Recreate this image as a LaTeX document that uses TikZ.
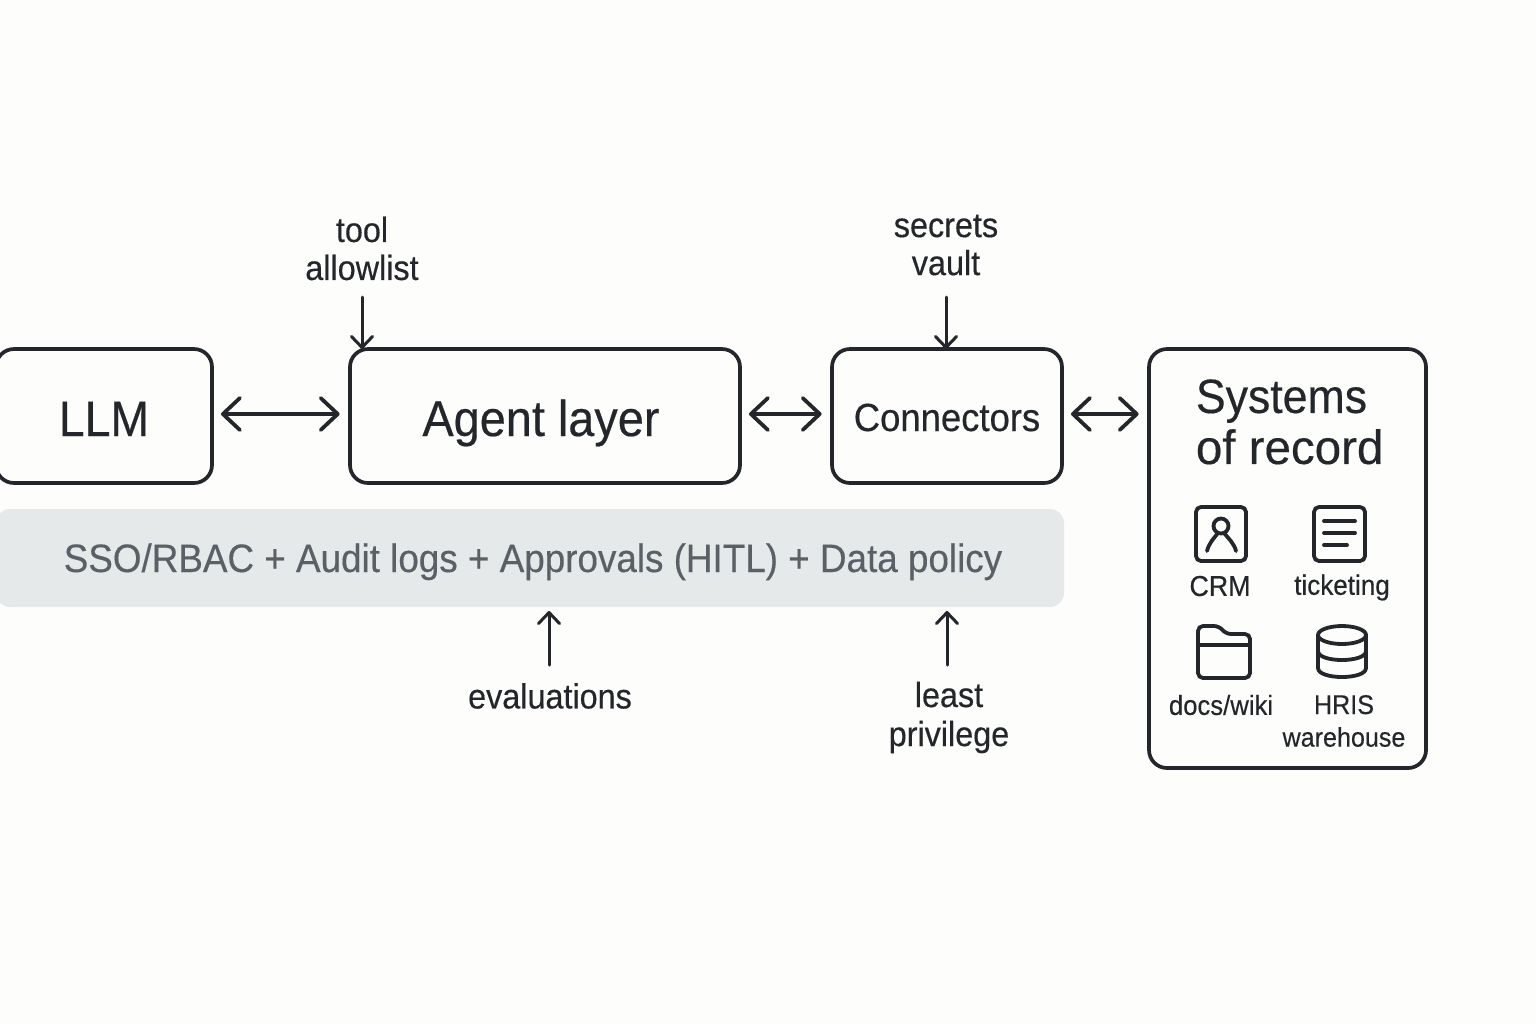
\documentclass[tikz,border=0pt]{standalone}
\usepackage{fontspec}
\setmainfont[FakeStretch=0.93,FakeBold=0.35]{Liberation Sans}
\usetikzlibrary{arrows.meta}
\definecolor{ink}{HTML}{23272B}
\definecolor{bandfill}{HTML}{E6E9EA}
\definecolor{bandtext}{HTML}{5A6066}
\definecolor{paper}{HTML}{FDFDFB}
\tikzset{
  x=0.5pt,y=-0.5pt,
  blockbox/.style={draw=ink,line width=1.85pt,rounded corners=9pt,fill=paper,inner sep=0pt,outer sep=0pt,text=ink,anchor=north west},
  lbl/.style={text=ink,inner sep=0pt,align=center},
  dbl/.style={draw=ink,line width=1.9pt,line cap=round,shorten >=5.2pt,shorten <=4.5pt,{Straight Barb[round,length=8.5pt,width=16pt,line width=1.9pt]}-{Straight Barb[round,length=8.5pt,width=16pt,line width=1.9pt]}},
  sgl/.style={draw=ink,line width=1.5pt,line cap=round,-{Straight Barb[round,length=5.5pt,width=10.5pt,line width=1.5pt]}},
  icon/.style={draw=ink,line width=1.9pt,line cap=round,line join=round},
}
\begin{document}
\begin{tikzpicture}
\useasboundingbox (0,0) rectangle (1536,1024);
\fill[paper] (0,0) rectangle (1536,1024);
\begin{scope}
\clip (0,0) rectangle (1536,1024);
\node[blockbox,minimum width=108pt,minimum height=67pt,font=\fontsize{25}{30}\selectfont,text height=20pt,text depth=0pt] (llm) at (-4,349) {LLM};
\node[fill=bandfill,rounded corners=7pt,minimum width=534pt,minimum height=49pt,inner sep=0pt,outer sep=0pt,anchor=north west] (band) at (-4,509) {};
\end{scope}
\node[blockbox,minimum width=195pt,minimum height=67pt,font=\fontsize{25.2}{30}\selectfont,text height=20pt,text depth=0pt] (agent) at (350,349) {Agent layer\kern4pt\null};
\node[blockbox,minimum width=115pt,minimum height=67pt,font=\fontsize{19.6}{23}\selectfont,text height=15pt,text depth=0pt] (conn) at (832,349) {Connectors};
\node[blockbox,minimum width=138.5pt,minimum height=209.5pt] (sys) at (1149,349) {};
\node[text=bandtext,inner sep=0pt,anchor=base] (bandlabel) at (533,572) {\fontsize{19.8}{24}\selectfont SSO/RBAC + Audit logs + Approvals (HITL) + Data policy};

\node[lbl,anchor=north west,align=left,font=\fontsize{24}{25.5}\selectfont] (systitle) at (1195.5,379) {Systems\\{\addfontfeature{FakeStretch=0.99}of record}};

\node[lbl,font=\fontsize{17.4}{19}\selectfont] (toollabel) at (362,248.5) {tool\\allowlist};
\node[lbl,font=\fontsize{17.4}{19}\selectfont] (vaultlabel) at (946,245) {secrets\\vault};
\node[lbl,font=\fontsize{17.4}{19}\selectfont] (evallabel) at (550,696) {evaluations};
\node[lbl,font=\fontsize{17.4}{19.5}\selectfont] (leastlabel) at (949,717.5) {least\\privilege};

% connectors
\coordinate (a1) at ([yshift=1pt]llm.east);
\draw[dbl] (a1) -- (agent.west |- a1);
\coordinate (a2) at ([yshift=1pt]agent.east);
\draw[dbl] (a2) -- (conn.west |- a2);
\coordinate (a3) at ([yshift=1pt]conn.east);
\draw[dbl] (a3) -- (sys.west |- a3);

\coordinate (t1) at (362,297);
\draw[sgl] (t1) -- (t1 |- agent.north);
\coordinate (t2) at (946,297);
\draw[sgl] (t2) -- (t2 |- conn.north);
\coordinate (t3) at (549,665);
\draw[sgl,shorten >=2pt] (t3) -- (t3 |- band.south);
\coordinate (t4) at (947,665);
\draw[sgl,shorten >=2pt] (t4) -- (t4 |- band.south);

% CRM icon
\draw[icon,rounded corners=2.5pt] (1196,507) rectangle (1246,561);
\draw[icon] (1221,526) circle (7.5);
\draw[icon] (1207,551) .. controls (1209,543) and (1214,538) .. (1218,533);
\draw[icon] (1236,551) .. controls (1234,543) and (1228,538) .. (1224,533);
\node[lbl,font=\fontsize{14.4}{17}\selectfont] (crm) at (1220,586) {CRM};

% ticketing icon
\draw[icon,rounded corners=2.5pt] (1314,507) rectangle (1365,561);
\draw[icon] (1324,521) -- (1355,521);
\draw[icon] (1324,533) -- (1355,533);
\draw[icon] (1324,545) -- (1347,545);
\node[lbl,font=\fontsize{14}{17}\selectfont] (ticketing) at (1342,587.5) {ticketing};

% folder icon
\draw[icon,rounded corners=2.5pt] (1198,645) -- (1198,626) -- (1219,626) -- (1226,634) -- (1250,634) -- (1250,678) -- (1198,678) -- cycle;
\draw[icon] (1198,645) -- (1250,645);
\node[lbl,font=\fontsize{13.8}{17}\selectfont] (docs) at (1221,705) {docs/wiki};

% database icon
\draw[icon] (1342,635) ellipse (24 and 9);
\draw[icon] (1318,635) -- (1318,668) .. controls (1318,674) and (1330,677) .. (1342,677) .. controls (1354,677) and (1366,674) .. (1366,668) -- (1366,635);
\draw[icon] (1318,651) .. controls (1318,657) and (1330,660) .. (1342,660) .. controls (1354,660) and (1366,657) .. (1366,651);
\node[lbl,font=\fontsize{13.5}{16.3}\selectfont] (hris) at (1344,721) {HRIS\\warehouse};
\end{tikzpicture}
\end{document}
